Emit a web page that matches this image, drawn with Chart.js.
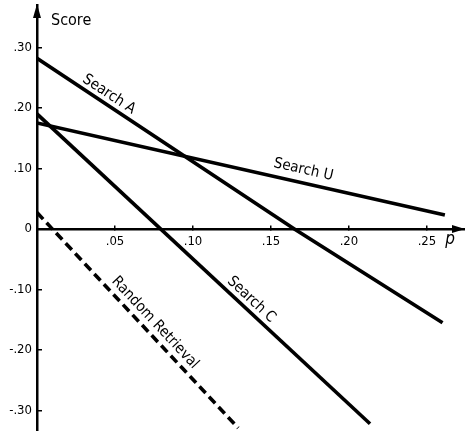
<!DOCTYPE html>
<html>
<head>
<meta charset="utf-8">
<script src="https://cdn.jsdelivr.net/npm/chart.js@4"></script>
<style>
  html, body { margin: 0; padding: 0; background: #fff; }
  #wrap { width: 465px; height: 431px; }
</style>
</head>
<body>
<div id="wrap"><canvas id="chart"></canvas></div>
<script>
// values: [p, score]
const seriesNames = ['Search A', 'Search U', 'Search C', 'Random Retrieval'];
const searchA = [[0, 0.282], [0.165, 0], [0.26, -0.155]];
const searchU = [[0, 0.175], [0.2615, 0.023]];
const searchC = [[0, 0.19], [0.2135, -0.322]];
const randomRetrieval = [[0, 0.027], [0.129, -0.329]];

const xTicks = [0.05, 0.10, 0.15, 0.20, 0.25];
const xTickLabels = ['.05', '.10', '.15', '.20', '.25'];
const yTicks = [0.3, 0.2, 0.1, 0, -0.1, -0.2, -0.3];
const yTickLabels = ['.30', '.20', '.10', '0', '-.10', '-.20', '-.30'];

const FONT = "'Liberation Sans Narrow', 'DejaVu Sans Condensed', sans-serif";

const toPoints = (arr) => arr.map(([x, y]) => ({x: x, y: y}));

function makeSet(label, arr, dash) {
    return {
        label: label,
        data: toPoints(arr),
        showLine: true,
        borderColor: '#000',
        borderWidth: 3.6,
        borderDash: dash || [],
        borderCapStyle: 'butt',
        pointRadius: 0,
        fill: false,
    };
}

// text labels sitting along each line, plus arrows and axis names
const decorPlugin = {
    id: 'decor',
    afterDraw: function(chart) {
        const ctx = chart.ctx;
        const xs = chart.scales.x;
        const ys = chart.scales.y;
        const area = chart.chartArea;
        const y0 = ys.getPixelForValue(0);

        ctx.save();
        ctx.fillStyle = '#000';

        // arrow on top of y axis
        ctx.beginPath();
        ctx.moveTo(area.left, area.top - 1);
        ctx.lineTo(area.left - 4, area.top + 13);
        ctx.lineTo(area.left + 4, area.top + 13);
        ctx.closePath();
        ctx.fill();

        // arrow at right end of x axis
        ctx.beginPath();
        ctx.moveTo(chart.width, y0);
        ctx.lineTo(chart.width - 13, y0 - 4);
        ctx.lineTo(chart.width - 13, y0 + 4);
        ctx.closePath();
        ctx.fill();

        ctx.textBaseline = 'middle';
        ctx.font = '16px ' + FONT;
        ctx.textAlign = 'left';
        ctx.fillText('Score', area.left + 14, 21);

        ctx.font = 'italic 17px ' + FONT;
        ctx.textAlign = 'center';
        ctx.fillText('p', area.right - 15, y0 + 11);

        const labels = [
            {text: seriesNames[0], series: searchA, p: 0.043, off: 9},
            {text: seriesNames[1], series: searchU, p: 0.169, off: 13},
            {text: seriesNames[2], series: searchC, p: 0.133, off: 10},
            {text: seriesNames[3], series: randomRetrieval, p: 0.0705, off: 11},
        ];
        ctx.font = '15px ' + FONT;
        labels.forEach((l) => {
            const a = l.series[0];
            const b = l.series[l.series.length - 1];
            const ax = xs.getPixelForValue(a[0]), ay = ys.getPixelForValue(a[1]);
            const bx = xs.getPixelForValue(b[0]), by = ys.getPixelForValue(b[1]);
            const ang = Math.atan2(by - ay, bx - ax);
            const t = (l.p - a[0]) / (b[0] - a[0]);
            const px = ax + (bx - ax) * t + Math.sin(ang) * l.off;
            const py = ay + (by - ay) * t - Math.cos(ang) * l.off;
            ctx.save();
            ctx.translate(px, py);
            ctx.rotate(ang);
            ctx.textAlign = 'center';
            ctx.fillText(l.text, 0, 0);
            ctx.restore();
        });
        ctx.restore();
    }
};

const chart = new Chart(document.getElementById('chart'), {
    type: 'scatter',
    data: {
        datasets: [
            makeSet(seriesNames[0], searchA),
            makeSet(seriesNames[1], searchU),
            makeSet(seriesNames[2], searchC),
            makeSet(seriesNames[3], randomRetrieval, [9, 5]),
        ],
    },
    options: {
        responsive: true,
        maintainAspectRatio: false,
        animation: false,
        layout: {
            padding: {top: 5, right: 0, bottom: 0, left: 0},
        },
        plugins: {
            legend: {display: false},
            tooltip: {enabled: false},
        },
        scales: {
            x: {
                type: 'linear',
                min: 0,
                max: 0.2744,
                position: {y: 0},
                afterBuildTicks: (s) => { s.ticks = xTicks.map((v) => ({value: v})); },
                afterFit: (s) => { s.paddingLeft = 0; s.paddingRight = 0; },
                ticks: {
                    autoSkip: false,
                    maxRotation: 0,
                    color: '#000',
                    padding: 10,
                    font: {family: FONT, size: 13},
                    callback: (v, i) => xTickLabels[i],
                },
                grid: {drawOnChartArea: false, drawTicks: true, tickLength: -5, color: '#000', lineWidth: 1.5},
                border: {color: '#000', width: 2.5},
            },
            y: {
                type: 'linear',
                min: -0.334,
                max: 0.37,
                position: 'left',
                afterBuildTicks: (s) => { s.ticks = yTicks.map((v) => ({value: v})); },
                afterFit: (s) => { s.width = 37; s.paddingTop = 0; s.paddingBottom = 0; },
                ticks: {
                    autoSkip: false,
                    color: '#000',
                    padding: 10,
                    font: {family: FONT, size: 13},
                    callback: (v, i) => yTickLabels[i],
                },
                grid: {drawOnChartArea: false, drawTicks: true, tickLength: -5, color: '#000', lineWidth: 1.5},
                border: {color: '#000', width: 2.5},
            },
        },
    },
    plugins: [decorPlugin],
});
</script>
</body>
</html>
